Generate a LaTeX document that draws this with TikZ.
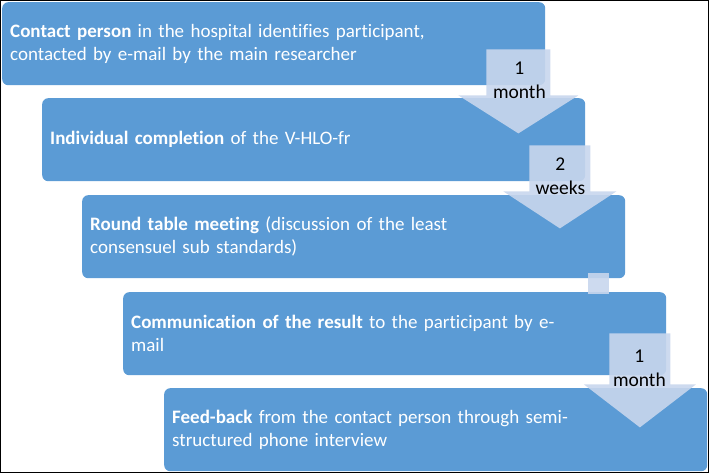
\documentclass[tikz,border=0pt]{standalone}
\usepackage{fontspec}
\setmainfont{Carlito}[Ligatures=CommonOff]
\usetikzlibrary{calc}
\definecolor{boxblue}{RGB}{91,155,213}
\definecolor{arrowblue}{RGB}{200,214,237}
\tikzset{
  stepbox/.style={fill=boxblue, rounded corners=6pt, anchor=north west,
    minimum width=543pt, minimum height=83pt, text width=527pt,
    inner xsep=8pt, inner ysep=0pt, align=left, text=white,
    font=\fontsize{19}{23}\selectfont},
  steparrow/.style={fill=arrowblue, fill opacity=0.9},
  steplabel/.style={align=center, inner sep=0pt, text=black,
    font=\fontsize{19.5}{23.5}\selectfont}
}

\begin{document}
\begin{tikzpicture}[x=1pt, y=-1pt]
  \useasboundingbox (0,0) rectangle (709,473);
  \node[stepbox] (b1) at (2,2) {\textbf{Contact person} in the hospital identifies participant,\\contacted by e-mail by the main researcher};
  \node[stepbox] (b2) at (42,98) {\textbf{Individual completion} of the V-HLO-fr};
  \node[stepbox] (b3) at (82,195) {\textbf{Round table meeting} (discussion of the least\\consensuel sub standards)};
  \node[stepbox] (b4) at (123,292) {\textbf{Communication of the result} to the participant by e-\\mail};
  \node[stepbox] (b5) at (164,388) {\textbf{Feed-back} from the contact person through semi-\\structured phone interview};
  \fill[steparrow] ($(b1.south east)+(-59,-36)$) -- ++(64,0) -- ++(0,46) -- ++(28,0) -- ++(-60,38) -- ++(-60,-38) -- ++(28,0) -- cycle;
  \fill[steparrow] ($(b2.south east)+(-56,-36)$) -- ++(61,0) -- ++(0,46) -- ++(26,0) -- ++(-56.5,37) -- ++(-56.5,-37) -- ++(26,0) -- cycle;
  \fill[steparrow] ($(b3.south east)+(-37,-5)$) rectangle ($(b3.south east)+(-16,16)$);
  \fill[steparrow] ($(b4.south east)+(-57,-42)$) -- ++(61,0) -- ++(0,51) -- ++(25.5,0) -- ++(-56,43) -- ++(-56,-43) -- ++(25.5,0) -- cycle;
  \node[steplabel] (m1) at ($(b1.south east)+(-26,-5)$) {1\\month};
  \node[steplabel] (m2) at ($(b2.south east)+(-25,-5)$) {2\\weeks};
  \node[steplabel] (m4) at ($(b4.south east)+(-27,-7)$) {1\\month};
  \draw[line width=1pt] (0.5,0.5) rectangle (708.5,472.5);
\end{tikzpicture}
\end{document}
